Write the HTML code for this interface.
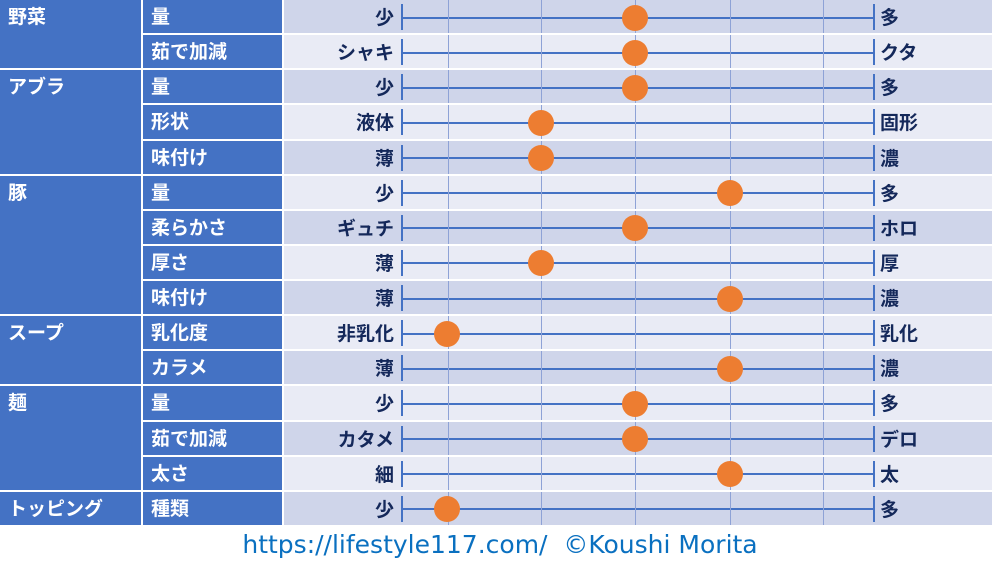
<!DOCTYPE html>
<html><head><meta charset="utf-8"><style>
body{margin:0;width:1000px;height:563px;background:#fff;position:relative;overflow:hidden;font-family:"Liberation Sans","Noto Sans CJK JP",sans-serif;font-weight:bold}
.c{position:absolute;box-sizing:border-box;color:#fff;font-size:19px;padding:6px 0 0 8px;line-height:24px}
.g{position:absolute;background:#4472c4}
.lab{position:absolute;font-size:19px;color:#14285a;line-height:24px}
.foot{position:absolute;top:530px;left:0;width:1000px;text-align:center;font-size:25px;line-height:30px;color:#0a70c0;font-weight:normal;font-family:"DejaVu Sans","Liberation Sans",sans-serif}
</style></head><body>
<div id="t"></div>
<div class="foot">https://lifestyle117.com/&nbsp;&nbsp;©Koushi Morita</div>
<script>
const cat=[["野菜",2],["アブラ",3],["豚",4],["スープ",2],["麺",3],["トッピング",1]];
const rows=[["量","少","多",635],["茹で加減","シャキ","クタ",635],["量","少","多",635],["形状","液体","固形",541],["味付け","薄","濃",541],["量","少","多",730],["柔らかさ","ギュチ","ホロ",635],["厚さ","薄","厚",541],["味付け","薄","濃",730],["乳化度","非乳化","乳化",447],["カラメ","薄","濃",730],["量","少","多",635],["茹で加減","カタメ","デロ",635],["太さ","細","太",730],["種類","少","多",447]];
const H=35.13;let h="";
let r=0;
cat.forEach(([n,k])=>{h+=`<div class="c" style="left:0;top:${r*H}px;width:141px;height:${k*H-2}px;background:#4472c4">${n}</div>`;r+=k;});
rows.forEach((d,i)=>{const y=i*H;const bg=i%2?"#e9ebf5":"#cfd5ea";
h+=`<div class="c" style="left:143px;top:${y}px;width:139px;height:${H-2}px;background:#4472c4">${d[0]}</div>`;
h+=`<div style="position:absolute;left:284px;top:${y}px;width:708px;height:${H-2}px;background:${bg}"></div>`;
const cy=y+16.5;
h+=`<div class="g" style="left:401px;top:${cy}px;width:472px;height:2px"></div>`;
[401,873].forEach(x=>h+=`<div class="g" style="left:${x}px;top:${y+4}px;width:2px;height:26px"></div>`);
[448,541,635,730,823].forEach(x=>h+=`<div style="position:absolute;left:${x}px;top:${y}px;width:1px;height:${H-2}px;background:#8ea2d6"></div>`);
h+=`<div class="lab" style="right:${1000-394}px;top:${y+7}px">${d[1]}</div>`;
h+=`<div class="lab" style="left:880px;top:${y+7}px">${d[2]}</div>`;
h+=`<div style="position:absolute;left:${d[3]-13}px;top:${cy-12}px;width:26px;height:26px;border-radius:50%;background:#ed7d31"></div>`;
});
document.getElementById("t").innerHTML=h;
</script>
</body></html>
